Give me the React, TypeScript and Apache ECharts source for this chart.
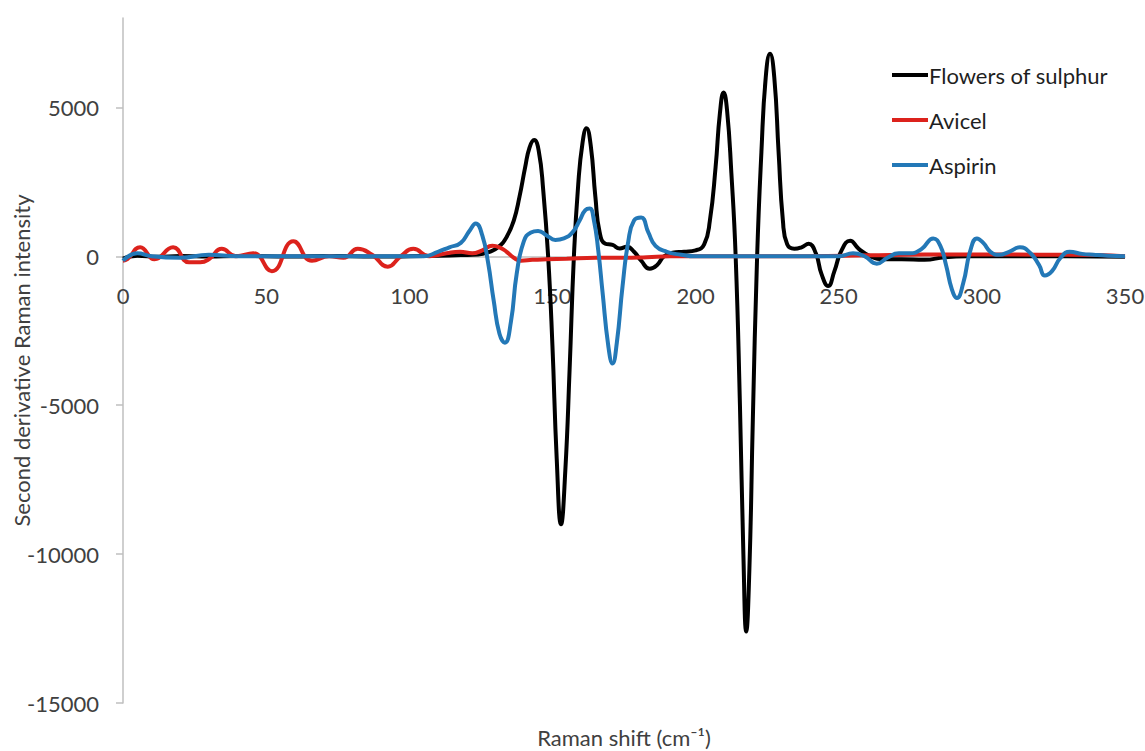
import React, { useEffect, useRef } from "react";
import * as echarts from "echarts";

// Raman shift (cm-1) sample positions and second-derivative intensities
const sulphurX = [0, 5, 12, 20, 30, 40, 50, 60, 70, 80, 90, 100, 110, 118, 124, 128, 131, 134, 136.5, 138.5, 140.5, 142, 143.6, 145.2, 146.8, 148.5, 150, 151.5, 153, 154.5, 156, 157.5, 159, 160.5, 161.9, 163.4, 165, 166.5, 168.5, 171, 173.5, 176, 178.5, 181, 184, 186.5, 189, 192, 196, 200, 203, 205, 207, 208.5, 209.8, 211, 212.5, 214, 215.5, 216.7, 217.7, 218.8, 220, 221.5, 223, 224.5, 226, 227.5, 229, 230.5, 232, 234.5, 237, 239.5, 242, 244, 246.3, 248.5, 251, 254, 257, 261, 266, 272, 280, 287, 295, 310, 330, 350];
const sulphurY = [-80, 20, -20, 10, -10, 10, 0, -10, 10, 0, -10, 0, 20, 40, 60, 150, 300, 650, 1200, 2000, 3000, 3650, 3900, 3550, 2200, 0, -3000, -6800, -9000, -7200, -3800, 0, 2400, 3800, 4300, 3700, 2000, 800, 420, 380, 260, 320, 150, -150, -420, -300, 0, 120, 150, 200, 400, 1200, 3000, 4800, 5500, 4900, 2800, 0, -5000, -10000, -12600, -10500, -5500, 0, 3500, 6000, 6800, 6000, 3500, 1200, 400, 250, 300, 420, 100, -600, -1000, -500, 200, 520, 250, 0, -100, -100, -120, -30, 0, 0, 0, -20];

const avicelX = [0, 1.5, 6, 11, 17.5, 23, 27, 30, 34.5, 39.5, 45.5, 52, 59.5, 66, 72, 77, 82, 87, 92.5, 97, 101.4, 107, 113, 117.7, 122, 125.5, 129, 131.5, 134, 136.5, 139, 143, 148, 155, 165, 175, 183, 191, 200, 220, 240, 260, 280, 300, 320, 340, 350];
const avicelY = [-150, -100, 300, -100, 300, -200, -200, -100, 250, 0, 100, -500, 500, -150, 0, -50, 250, 50, -350, 0, 250, 0, 100, 150, 100, 200, 350, 300, 150, -50, -150, -120, -100, -80, -50, -50, -30, 0, 0, 0, 0, 30, 60, 60, 50, 40, 0];

const aspirinX = [0, 5, 10, 20, 30, 40, 50, 60, 70, 80, 90, 100, 105, 110, 114, 118, 121, 123.2, 125.5, 127.5, 129.5, 131.5, 133.4, 135.5, 137.5, 140, 142.5, 145, 148, 151, 154, 157, 159.5, 161.5, 163, 164.5, 166, 167.5, 169.5, 171, 172.5, 174.5, 176.5, 178.5, 181, 183.5, 186, 190, 195, 200, 210, 230, 250, 255, 259, 263.3, 267, 271, 275, 279, 283, 285.5, 287.5, 289.5, 291.3, 293.5, 296, 298.3, 300.5, 303, 306, 309.5, 313.3, 317, 320, 322, 324.5, 327.5, 330.7, 335, 339, 344, 350];
const aspirinY = [-150, 100, 0, -50, 50, 0, 0, 0, 0, 0, 0, 0, 0, 150, 300, 450, 850, 1100, 700, -200, -1500, -2600, -2900, -2200, -600, 500, 800, 850, 700, 550, 600, 800, 1200, 1550, 1600, 1200, 200, -1200, -3000, -3600, -2900, -1000, 500, 1200, 1300, 800, 350, 150, 50, 0, 0, 0, 0, 100, 0, -250, -50, 100, 100, 250, 600, 350, -300, -1100, -1400, -900, 200, 600, 450, 150, 50, 150, 300, 100, -300, -650, -500, -50, 150, 80, 50, 20, 0];

const seriesNames = ["Flowers of sulphur", "Avicel", "Aspirin"];
const yMin = -15000;
const yMax = 8000;
const yTickValues = [-15000, -10000, -5000, 0, 5000];
const xTitle = "Raman shift (cm\u207B\u00B9)";
const yTitle = "Second derivative Raman intensity";

const zip = (xs: number[], ys: number[]) => xs.map((x, i) => [x, ys[i]]);

const FONT = "Lato, 'Open Sans', sans-serif";

const GRID = { left: 123, right: 20, top: 18, bottom: 48 };
const CHART_H = 751;

export default function App() {
  const ref = useRef<HTMLDivElement>(null);
  useEffect(() => {
    document.body.style.margin = "0";
    if (!ref.current) return;
    const chart = echarts.init(ref.current, null, { renderer: "svg" });
    const colors = ["#000000", "#dc221c", "#2378b7"];
    const datasets = [zip(sulphurX, sulphurY), zip(avicelX, avicelY), zip(aspirinX, aspirinY)];
    // lift the x axis from the grid bottom to the y = 0 level
    const plotH = CHART_H - GRID.top - GRID.bottom;
    const zeroOffset = -(plotH * (0 - yMin)) / (yMax - yMin);
    chart.setOption({
      animation: false,
      backgroundColor: "#ffffff",
      textStyle: { fontFamily: FONT },
      grid: { ...GRID, containLabel: false, outerBoundsMode: "none" },
      legend: {
        data: seriesNames,
        orient: "vertical",
        left: 887,
        top: 58,
        icon: "rect",
        itemWidth: 36,
        itemHeight: 4,
        itemGap: 21,
        textStyle: { fontSize: 22, color: "#1f1f1f", fontFamily: FONT, lineHeight: 24, padding: [0, 0, 0, -4] },
      },
      xAxis: {
        type: "value",
        min: 0,
        max: 350,
        interval: 50,
        position: "bottom",
        offset: zeroOffset,
        axisLine: { show: true, onZero: false, lineStyle: { color: "#bfbfbf", width: 1.5 } },
        axisTick: { show: false },
        splitLine: { show: false },
        axisLabel: { fontSize: 22, color: "#404040", margin: 28, fontFamily: FONT },
      },
      yAxis: {
        type: "value",
        min: yMin,
        max: yMax,
        interval: 5000,
        name: yTitle,
        nameLocation: "middle",
        nameGap: 91,
        nameMoveOverlap: false,
        nameTextStyle: { fontSize: 22, color: "#404040", fontFamily: FONT },
        axisLine: { show: true, onZero: false, lineStyle: { color: "#bfbfbf", width: 1.5 } },
        axisTick: { show: true, length: 7, customValues: yTickValues, lineStyle: { color: "#bfbfbf", width: 1.5 } },
        splitLine: { show: false },
        axisLabel: {
          fontSize: 22,
          color: "#404040",
          margin: 24,
          fontFamily: FONT,
          customValues: yTickValues,
          formatter: (v: number) => String(v),
        },
      },
      graphic: [
        {
          type: "text",
          x: 624,
          y: 737,
          style: { text: xTitle, fontSize: 22, fill: "#404040", fontFamily: FONT, align: "center", verticalAlign: "middle" },
        },
      ],
      series: seriesNames.map((name, i) => ({
        name,
        type: "line",
        data: datasets[i],
        smooth: 0.5,
        showSymbol: false,
        symbol: "none",
        lineStyle: { color: colors[i], width: 4 },
        itemStyle: { color: colors[i] },
        z: 2 + i,
      })),
    });
    return () => chart.dispose();
  }, []);
  return <div ref={ref} style={{ width: 1145, height: 751 }} />;
}
